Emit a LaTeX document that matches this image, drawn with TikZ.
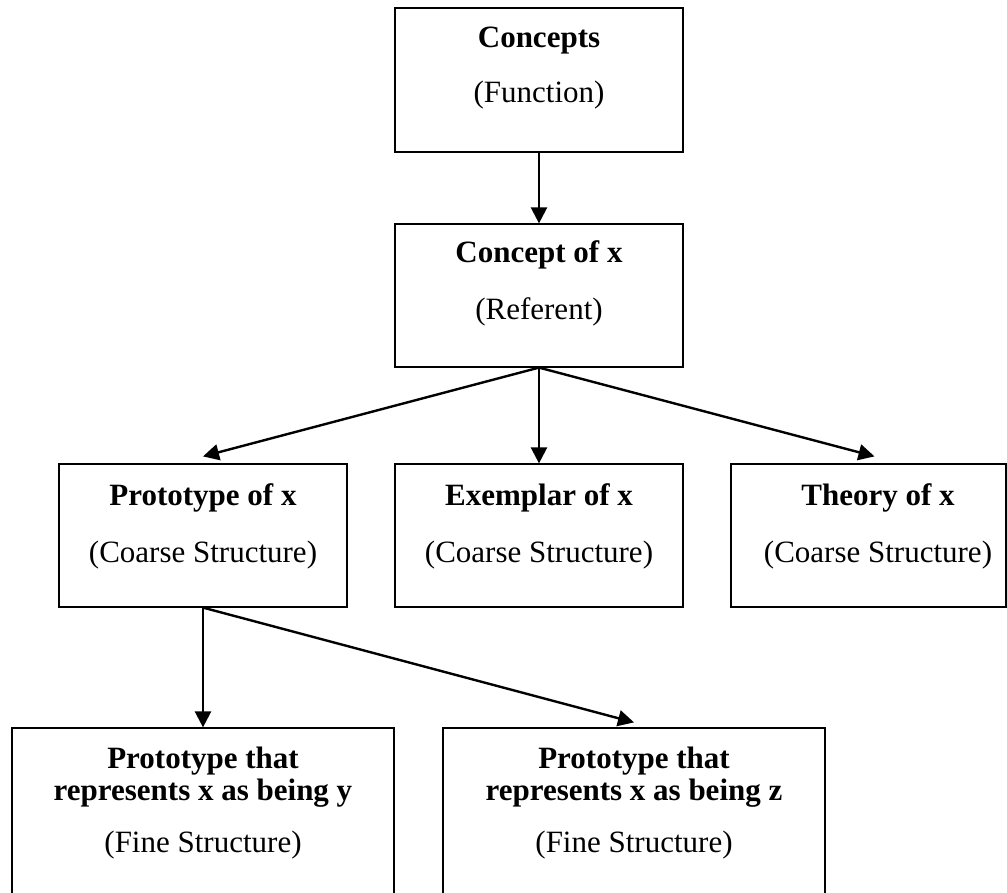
\documentclass[tikz,border=0pt]{standalone}
\usepackage{fontspec}
\setmainfont{Liberation Serif}
\usetikzlibrary{arrows.meta}
\begin{document}
\begin{tikzpicture}[x=1pt,y=-1pt,
  box/.style={draw=black, line width=1.2pt, minimum width=288pt, minimum height=143pt, inner sep=0pt},
  head/.style={font=\fontsize{31}{33}\selectfont\bfseries, anchor=base, inner sep=0pt},
  sub/.style={font=\fontsize{31}{33}\selectfont, anchor=base, inner sep=0pt},
  link/.style={line width=2.4pt, -{Triangle[length=16pt,width=16pt]}}
]
\useasboundingbox (0,0) rectangle (1007,893);
\clip (0,0) rectangle (1007,893);

% top level
\node[box, minimum height=144pt] (concepts) at (539,80) {};
\node[head] (conceptsT) at (539,48) {Concepts};
\node[sub]  (conceptsS) at (539,103) {(Function)};

\node[box] (conceptx) at (539,295.5) {};
\node[head] (conceptxT) at (539,263) {Concept of x};
\node[sub]  (conceptxS) at (539,320) {(Referent)};

% coarse structures
\node[box] (proto) at (203,535.5) {};
\node[head] (protoT) at (203,505) {Prototype of x};
\node[sub]  (protoS) at (203,562) {(Coarse Structure)};

\node[box] (exemplar) at (539,535.5) {};
\node[head] (exemplarT) at (539,505) {Exemplar of x};
\node[sub]  (exemplarS) at (539,562) {(Coarse Structure)};

\node[box, minimum width=275pt] (theory) at (868.5,535.5) {};
\node[head] (theoryT) at (878,505) {Theory of x};
\node[sub]  (theoryS) at (878,562) {(Coarse Structure)};

% fine structures
\node[box, minimum width=382pt, minimum height=240pt] (py) at (203,848) {};
\node[head] (pyT1) at (203,768) {Prototype that};
\node[head] (pyT2) at (203,800) {represents x as being y};
\node[sub]  (pyS)  at (203,852) {(Fine Structure)};

\node[box, minimum width=382pt, minimum height=240pt] (pz) at (634,848) {};
\node[head] (pzT1) at (634,768) {Prototype that};
\node[head] (pzT2) at (634,800) {represents x as being z};
\node[sub]  (pzS)  at (634,852) {(Fine Structure)};

% connectors
\draw[link] (concepts.south) -- (conceptx.north);
\draw[link] (conceptx.south) -- ([yshift=7pt]proto.north);
\draw[link] (conceptx.south) -- (exemplar.north);
\draw[link] (conceptx.south) -- ([xshift=6pt,yshift=7pt]theory.north);
\draw[link] (proto.south) -- (py.north);
\draw[link] (proto.south) -- ([yshift=5pt]pz.north);
\end{tikzpicture}
\end{document}
